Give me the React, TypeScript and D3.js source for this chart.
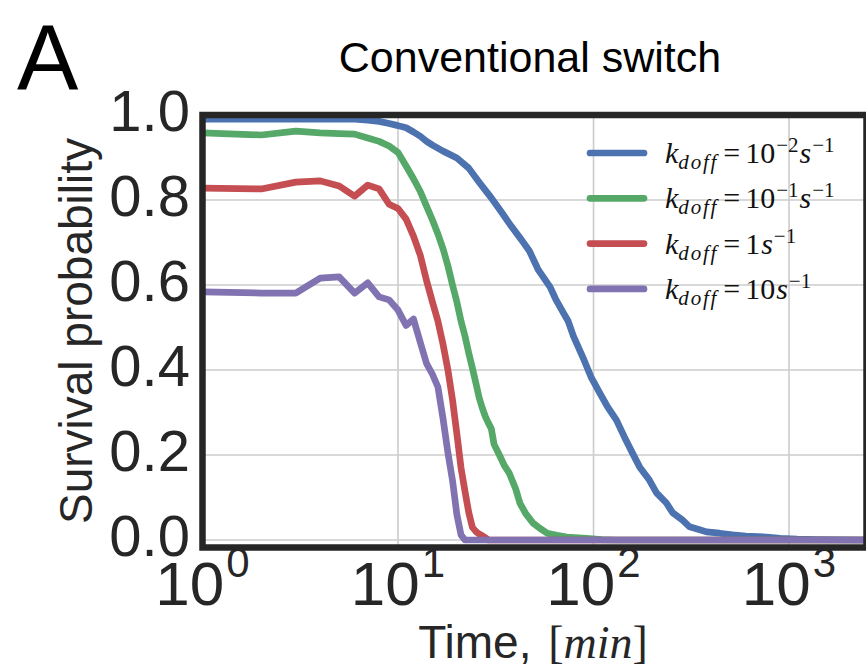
import React from "react";
import * as d3 from "d3";

// ---- data ----
const blueT = [1,2,3,4,5,6,7,8,9,10,11,12,13,14,15,17,20,23,26,30,34,38,43,47,52,60,64,70,74,79,88,97,107,118,131,144,158,172,193,210,236,254,285,310,349,378,441,514,600,767,900,1100,1400,2490];
const blueV = [0.99,0.99,0.99,0.99,0.991,0.99,0.988,0.985,0.98,0.975,0.97,0.96,0.95,0.938,0.929,0.915,0.899,0.875,0.842,0.805,0.77,0.738,0.705,0.68,0.637,0.595,0.567,0.535,0.516,0.479,0.431,0.384,0.348,0.313,0.282,0.242,0.205,0.172,0.141,0.111,0.087,0.064,0.047,0.031,0.024,0.019,0.016,0.012,0.009,0.007,0.004,0.002,0.001,0];

const greenT = [1,2,3,4,5,6,7,8,9,10,11,12,13,14,15,16,17,18,19,20,21,22,23,24,25,26,27,28,29,30,31,33,35,37,40,42,45,49,53,58,65,73,92,110,130,2490];
const greenV = [0.958,0.953,0.962,0.958,0.956,0.955,0.946,0.938,0.927,0.912,0.88,0.85,0.82,0.785,0.753,0.72,0.685,0.645,0.6,0.56,0.515,0.48,0.44,0.405,0.37,0.335,0.31,0.29,0.275,0.262,0.225,0.2,0.175,0.158,0.12,0.087,0.062,0.04,0.028,0.016,0.011,0.007,0.004,0.001,0,0];

const redT = [1,2,3,4,5,6,7,8,9,10,11,12,13,14,15,16,17,18,19,20,21,22,23,24,25,26,27,28,29,2490];
const redV = [0.828,0.826,0.842,0.845,0.833,0.809,0.835,0.826,0.79,0.78,0.755,0.715,0.67,0.61,0.56,0.515,0.46,0.4,0.33,0.25,0.17,0.115,0.065,0.03,0.02,0.014,0.01,0.005,0,0];

const purpleT = [1,2,3,4,5,6,7,8,9,10,11,12,13,14,15,16,17,18,19,20,21,22,2490];
const purpleV = [0.584,0.581,0.581,0.616,0.619,0.581,0.605,0.572,0.565,0.541,0.505,0.52,0.465,0.415,0.39,0.36,0.285,0.205,0.14,0.06,0.012,0,0];

const xTickExponents = [0, 1, 2, 3];
const yTicks = [0, 0.2, 0.4, 0.6, 0.8, 1.0];
const legendBases = ["10", "10", "1", "10"];
const legendExps = ["−2", "−1", "", ""];
const colors = ["#4C72B0", "#55A868", "#C44E52", "#8172B2"];

const W = 866, H = 669;
const left = 202.5, right = 866.5, top = 115, bottom = 547.5;

export default function App() {
  const x = d3.scaleLog().domain([1, 2490]).range([left, right]);
  const y = d3.scaleLinear().domain([0, 1]).range([540, 115]);

  const series = [
    { t: blueT, v: blueV },
    { t: greenT, v: greenV },
    { t: redT, v: redV },
    { t: purpleT, v: purpleV },
  ];
  const line = d3
    .line<[number, number]>()
    .x((d) => x(d[0]))
    .y((d) => y(d[1]));

  const sans = "'Liberation Sans', Arial, sans-serif";
  const serif = "'Liberation Serif', 'Times New Roman', serif";
  const ink = "#262626";

  return (
    <svg
      width={W}
      height={H}
      style={{ position: "absolute", left: 0, top: 0, background: "#fff" }}
    >
      <defs>
        <clipPath id="plotclip">
          <rect x={left} y={top} width={right - left} height={bottom - top} />
        </clipPath>
      </defs>
      <rect x={0} y={0} width={W} height={H} fill="#fff" />

      {/* grid */}
      {xTickExponents.map((e) => (
        <line
          key={"gx" + e}
          x1={x(Math.pow(10, e))}
          x2={x(Math.pow(10, e))}
          y1={top}
          y2={bottom}
          stroke="#cccccc"
          strokeWidth={1.6}
        />
      ))}
      {yTicks.map((v) => (
        <line
          key={"gy" + v}
          x1={left}
          x2={right}
          y1={y(v)}
          y2={y(v)}
          stroke="#cccccc"
          strokeWidth={1.6}
        />
      ))}

      {/* curves */}
      <g clipPath="url(#plotclip)">
        {series.map((s, i) => (
          <path
            key={"s" + i}
            d={line(s.t.map((t, j) => [t, s.v[j]] as [number, number])) || ""}
            fill="none"
            stroke={colors[i]}
            strokeWidth={6.7}
            strokeLinejoin="round"
            strokeLinecap="round"
          />
        ))}
      </g>

      {/* frame */}
      <rect
        x={left}
        y={top}
        width={right - left}
        height={bottom - top}
        fill="none"
        stroke={ink}
        strokeWidth={6.5}
      />

      {/* y tick labels */}
      {yTicks.map((v) => (
        <text
          key={"yl" + v}
          x={190}
          y={y(v) + 16}
          textAnchor="end"
          fontFamily={sans}
          fontSize={58}
          fill={ink}
        >
          {v.toFixed(1)}
        </text>
      ))}

      {/* x tick labels */}
      {xTickExponents.map((e) => (
        <text
          key={"xl" + e}
          x={x(Math.pow(10, e))}
          y={605}
          textAnchor="middle"
          fontFamily={sans}
          fontSize={62}
          fill={ink}
        >
          10
          <tspan fontSize={42} dy={-28} dx={2}>
            {String(e)}
          </tspan>
        </text>
      ))}

      {/* axis labels */}
      <text
        transform={`translate(92,331) rotate(-90)`}
        textAnchor="middle"
        fontFamily={sans}
        fontSize={46}
        fill={ink}
      >
        Survival probability
      </text>
      <text x={533} y={658} textAnchor="middle" fontFamily={sans} fontSize={46} fill={ink}>
        Time,{" "}
        <tspan fontFamily={serif} dx={4}>[</tspan>
        <tspan fontFamily={serif} fontStyle="italic">min</tspan>
        <tspan fontFamily={serif}>]</tspan>
      </text>

      {/* title and panel letter */}
      <text x={530} y={72} textAnchor="middle" fontFamily={sans} fontSize={43} fill="#000">
        Conventional switch
      </text>
      <text x={17} y={90} fontFamily={sans} fontSize={92} fill="#000">
        A
      </text>

      {/* legend */}
      {colors.map((c, i) => {
        const ry = 153 + i * 45.3;
        return (
          <g key={"lg" + i}>
            <line
              x1={590}
              x2={644}
              y1={ry}
              y2={ry}
              stroke={c}
              strokeWidth={6.7}
              strokeLinecap="round"
            />
            <text x={665} y={ry + 10} fontFamily={serif} fontSize={30} fill="#111">
              <tspan fontStyle="italic">k</tspan>
              <tspan fontStyle="italic" fontSize={21} dy={6} letterSpacing={1.8}>
                doff
              </tspan>
              <tspan dy={-6} dx={5}>=</tspan>
              <tspan dx={5}>{legendBases[i]}</tspan>
              {legendExps[i] ? (
                <tspan fontSize={21} dy={-11} dx={1}>
                  {legendExps[i]}
                </tspan>
              ) : null}
              <tspan fontStyle="italic" dy={legendExps[i] ? 11 : 0} dx={1}>
                s
              </tspan>
              <tspan fontSize={21} dy={-11} dx={1}>
                −1
              </tspan>
            </text>
          </g>
        );
      })}
    </svg>
  );
}
